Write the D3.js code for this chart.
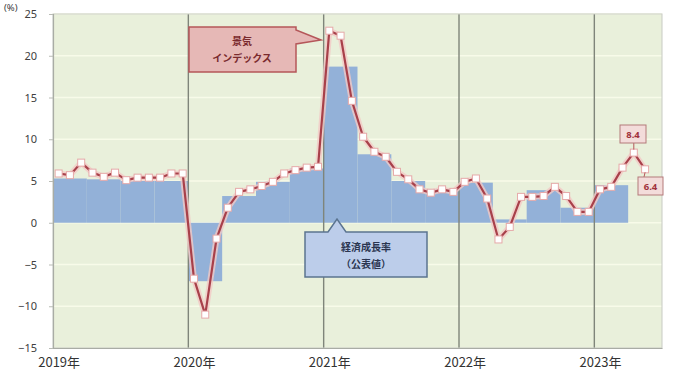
<!DOCTYPE html>
<html>
<head>
<meta charset="utf-8">
<script src="https://cdn.jsdelivr.net/npm/d3@7"></script>
<style>
  html, body { margin: 0; padding: 0; background: #ffffff; }
  svg { display: block; font-family: "Noto Sans CJK JP", "Noto Sans", sans-serif; }
</style>
</head>
<body>
<svg id="chart" width="673" height="377"></svg>
<script>
// Year labels along the horizontal axis (one per January)
const years = ["2019年", "2020年", "2021年", "2022年", "2023年"];
const monthCount = 54; // Jan 2019 .. Jun 2023

// Monthly composite business index, % y/y (Jan 2019 .. May 2023)
const indexValues = [
  5.9, 5.7, 7.2, 6.0, 5.5, 6.0, 5.1, 5.4, 5.4, 5.4, 5.9, 5.9,
  -6.7, -11.0, -1.9, 1.8, 3.7, 4.0, 4.4, 4.9, 5.9, 6.3, 6.6, 6.7,
  23.0, 22.4, 14.6, 10.3, 8.5, 7.9, 6.1, 5.2, 4.0, 3.6, 4.0, 3.7,
  4.9, 5.3, 2.9, -2.0, -0.5, 3.1, 3.1, 3.2, 4.3, 3.2, 1.3, 1.3,
  4.0, 4.3, 6.6, 8.4, 6.4
];

// Quarterly real GDP growth as published, % y/y (2019Q1 .. 2023Q1)
const gdpValues = [
  5.3, 5.2, 5.0, 5.0,
  -7.0, 3.2, 4.9, 6.5,
  18.7, 8.2, 5.0, 4.0,
  4.8, 0.4, 3.9, 1.8,
  4.5
];

// Y axis ticks
const yTicks = [-15, -10, -5, 0, 5, 10, 15, 20, 25];

const svg = d3.select("#chart");
const plotL = 53, plotR = 662, plotT = 14, plotB = 348;

const x = d3.scaleLinear().domain([0, monthCount]).range([plotL, plotR]);
const y = d3.scaleLinear().domain([-15, 25]).range([plotB, plotT]);

// plot background
svg.append("rect")
  .attr("x", plotL).attr("y", plotT)
  .attr("width", plotR - plotL).attr("height", plotB - plotT)
  .attr("fill", "#e9f0db");

// horizontal gridlines
svg.append("g").selectAll("line").data(yTicks.slice(1)).join("line")
  .attr("x1", plotL).attr("x2", plotR)
  .attr("y1", d => y(d)).attr("y2", d => y(d))
  .attr("stroke", "#f8fbe9").attr("stroke-width", 1.6);

// quarterly GDP bars (3 months wide, no gaps)
svg.append("g").selectAll("rect").data(gdpValues).join("rect")
  .attr("x", (d, i) => x(i * 3))
  .attr("width", (d, i) => x(i * 3 + 3) - x(i * 3))
  .attr("y", d => y(Math.max(0, d)))
  .attr("height", d => Math.abs(y(d) - y(0)))
  .attr("fill", "#93b1d8");

// year separators
svg.append("g").selectAll("line").data(years.slice(1)).join("line")
  .attr("x1", (d, i) => x((i + 1) * 12)).attr("x2", (d, i) => x((i + 1) * 12))
  .attr("y1", plotT).attr("y2", plotB)
  .attr("stroke", "#7f857a").attr("stroke-width", 1.4);

// frame
svg.append("rect")
  .attr("x", plotL).attr("y", plotT)
  .attr("width", plotR - plotL).attr("height", plotB - plotT)
  .attr("fill", "none").attr("stroke", "#c8cbc4").attr("stroke-width", 1);

// axes
const yAxis = d3.axisLeft(y).tickValues(yTicks).tickSize(4).tickPadding(12);
const gy = svg.append("g").attr("transform", `translate(${plotL},0)`).call(yAxis);
gy.select(".domain").attr("stroke", "#a9aca5").attr("stroke-width", 1.2);
gy.selectAll(".tick line").attr("stroke", "#b9bcb5");
gy.selectAll(".tick text").attr("font-size", 11).attr("fill", "#404040")
  .attr("font-family", "Noto Sans, sans-serif");

const xAxis = d3.axisBottom(x)
  .tickValues(years.map((d, i) => i * 12 + 0.5))
  .tickFormat((d, i) => years[i]).tickSize(0).tickPadding(10);
const gx = svg.append("g").attr("transform", `translate(0,${plotB})`).call(xAxis);
gx.select(".domain").attr("stroke", "#a9aca5").attr("stroke-width", 1.2);
gx.selectAll(".tick text").attr("font-size", 13).attr("fill", "#333")
  .attr("font-family", "Noto Sans CJK JP, sans-serif");

// unit label
svg.append("text").attr("x", 4).attr("y", 11)
  .attr("font-size", 9.5).attr("fill", "#404040")
  .attr("font-family", "Noto Sans, sans-serif").text("(%)");

// index line with soft halo
const line = d3.line().x((d, i) => x(i + 0.5)).y(d => y(d));
svg.append("path").datum(indexValues).attr("d", line)
  .attr("fill", "none").attr("stroke", "#f2c9c5").attr("stroke-width", 6)
  .attr("stroke-linejoin", "round").attr("opacity", 0.8);
svg.append("path").datum(indexValues).attr("d", line)
  .attr("fill", "none").attr("stroke", "#a8404a").attr("stroke-width", 2.2)
  .attr("stroke-linejoin", "round");

// square markers
svg.append("g").selectAll("rect").data(indexValues).join("rect")
  .attr("x", (d, i) => x(i + 0.5) - 3.5)
  .attr("y", d => y(d) - 3.5)
  .attr("width", 7).attr("height", 7)
  .attr("fill", "#ffffff").attr("stroke", "#e6a9a9").attr("stroke-width", 1);

// callout: business index
const c1 = svg.append("g");
c1.append("path")
  .attr("d", "M189,27 L296,27 L296,30 L321,40 L296,44 L296,72 L189,72 Z")
  .attr("fill", "#e6b8b6").attr("stroke", "#b5575a").attr("stroke-width", 1.5);
c1.append("text").attr("x", 242).attr("y", 45).attr("text-anchor", "middle")
  .attr("font-size", 10).attr("font-weight", "bold").attr("fill", "#7a2a2e").text("景気");
c1.append("text").attr("x", 242).attr("y", 62).attr("text-anchor", "middle")
  .attr("font-size", 10).attr("font-weight", "bold").attr("fill", "#7a2a2e").text("インデックス");

// callout: published GDP growth
const c2 = svg.append("g");
c2.append("path")
  .attr("d", "M305,232 L328,232 L337,219 L346,232 L427,232 L427,277 L305,277 Z")
  .attr("fill", "#bccdea").attr("stroke", "#5b7490").attr("stroke-width", 1.5);
c2.append("text").attr("x", 366).attr("y", 251).attr("text-anchor", "middle")
  .attr("font-size", 10).attr("font-weight", "bold").attr("fill", "#2a3550").text("経済成長率");
c2.append("text").attr("x", 366).attr("y", 268).attr("text-anchor", "middle")
  .attr("font-size", 10).attr("font-weight", "bold").attr("fill", "#2a3550").text("（公表値）");

// value tags on the latest two points
const tags = [
  { i: 51, box: [620, 125, 26, 18], tip: "down" },
  { i: 52, box: [638, 177, 25, 18], tip: "up" }
];
tags.forEach(t => {
  const v = indexValues[t.i];
  const px = x(t.i + 0.5), py = y(v);
  const [bx, by, bw, bh] = t.box;
  const g = svg.append("g");
  if (t.tip === "down") {
    g.append("line").attr("x1", px).attr("y1", by + bh).attr("x2", px).attr("y2", py - 3)
      .attr("stroke", "#b5575a").attr("stroke-width", 1);
  } else {
    g.append("line").attr("x1", bx + 6).attr("y1", by).attr("x2", px).attr("y2", py + 3)
      .attr("stroke", "#b5575a").attr("stroke-width", 1);
  }
  g.append("rect").attr("x", bx).attr("y", by).attr("width", bw).attr("height", bh)
    .attr("fill", "#f3dcda").attr("stroke", "#b47a7a").attr("stroke-width", 1);
  g.append("text").attr("x", bx + bw / 2).attr("y", by + bh / 2 + 3.5)
    .attr("text-anchor", "middle").attr("font-size", 9.5).attr("font-weight", "bold")
    .attr("fill", "#a0303a").attr("font-family", "Noto Sans, sans-serif")
    .text(v.toFixed(1));
});
</script>
</body>
</html>
